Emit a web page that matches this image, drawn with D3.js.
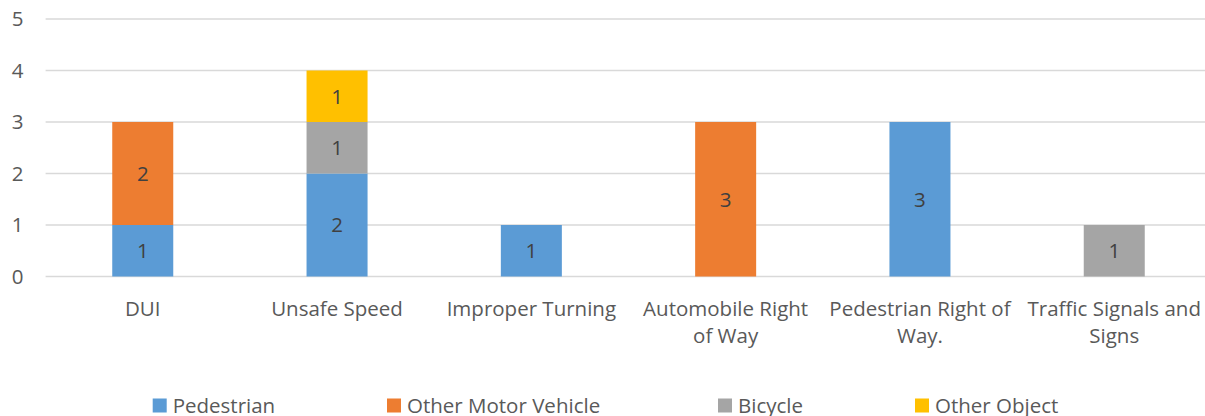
<!DOCTYPE html>
<html>
<head>
<meta charset="utf-8">
<script src="https://cdn.jsdelivr.net/npm/d3@7"></script>
<style>
  html, body { margin: 0; padding: 0; background: #fff; }
  svg { display: block; font-family: "Open Sans", sans-serif; }
</style>
</head>
<body>
<svg id="chart" width="1205" height="416"></svg>
<script>
// Collision causes, broken down by what was struck
const categories = ["DUI", "Unsafe Speed", "Improper Turning", "Automobile Right of Way", "Pedestrian Right of Way.", "Traffic Signals and Signs"];
const seriesNames = ["Pedestrian", "Other Motor Vehicle", "Bicycle", "Other Object"];
const pedestrian = [1, 2, 1, 0, 3, 0];
const otherMotorVehicle = [2, 0, 0, 3, 0, 0];
const bicycle = [0, 1, 0, 0, 0, 1];
const otherObject = [0, 1, 0, 0, 0, 0];
const yTicks = [0, 1, 2, 3, 4, 5];
const colors = ["#5B9BD5", "#ED7D31", "#A5A5A5", "#FFC000"];

const rows = categories.map((c, i) => ({
  category: c,
  "Pedestrian": pedestrian[i],
  "Other Motor Vehicle": otherMotorVehicle[i],
  "Bicycle": bicycle[i],
  "Other Object": otherObject[i]
}));

const svg = d3.select("#chart");
const plot = { left: 45.6, right: 1211.4, top: 19, bottom: 276.5 };
const fontSize = 20.5;

const x = d3.scaleBand().domain(categories).range([plot.left, plot.right]).paddingInner(0.686).paddingOuter(0.343);
const y = d3.scaleLinear().domain([0, 5]).range([plot.bottom, plot.top]);
const color = d3.scaleOrdinal().domain(seriesNames).range(colors);

// Horizontal gridlines
svg.append("g")
  .selectAll("line")
  .data(yTicks)
  .join("line")
  .attr("x1", plot.left).attr("x2", plot.right)
  .attr("y1", d => y(d)).attr("y2", d => y(d))
  .attr("stroke", "#D9D9D9").attr("stroke-width", 1.3);

// Y axis labels
const yAxis = svg.append("g")
  .attr("transform", `translate(${plot.left},0)`)
  .call(d3.axisLeft(y).tickValues(yTicks).tickSize(0).tickPadding(22).tickFormat(d3.format("d")));
yAxis.select(".domain").remove();
yAxis.selectAll("text").attr("fill", "#595959").attr("font-size", fontSize).attr("font-family", "'Open Sans', sans-serif");

// Stacked bars
const stacked = d3.stack().keys(seriesNames)(rows);
const layers = svg.append("g").selectAll("g")
  .data(stacked)
  .join("g")
  .attr("fill", d => color(d.key));

layers.selectAll("rect")
  .data(d => d.filter(s => s[1] - s[0] > 0))
  .join("rect")
  .attr("x", d => x(d.data.category))
  .attr("width", x.bandwidth())
  .attr("y", d => y(d[1]))
  .attr("height", d => y(d[0]) - y(d[1]));

// Value labels inside segments
layers.selectAll("text")
  .data(d => d.filter(s => s[1] - s[0] > 0))
  .join("text")
  .attr("x", d => x(d.data.category) + x.bandwidth() / 2)
  .attr("y", d => (y(d[0]) + y(d[1])) / 2)
  .attr("dy", "0.36em")
  .attr("text-anchor", "middle")
  .attr("fill", "#404040")
  .attr("font-size", fontSize)
  .text(d => d[1] - d[0]);

// Category labels, wrapped to the band width
const xAxis = svg.append("g")
  .attr("transform", `translate(0,${plot.bottom})`)
  .call(d3.axisBottom(x).tickSize(0).tickPadding(0));
xAxis.select(".domain").remove();
xAxis.selectAll("text").remove();

const wrapWidth = 186;
const catG = svg.append("g");
categories.forEach(c => {
  const cx = x(c) + x.bandwidth() / 2;
  const t = catG.append("text")
    .attr("x", cx)
    .attr("y", 316)
    .attr("text-anchor", "middle")
    .attr("fill", "#595959")
    .attr("font-size", fontSize);
  const words = c.split(" ");
  let line = [];
  let tspan = t.append("tspan").attr("x", cx).attr("dy", 0);
  words.forEach(w => {
    line.push(w);
    tspan.text(line.join(" "));
    if (tspan.node().getComputedTextLength() > wrapWidth && line.length > 1) {
      line.pop();
      tspan.text(line.join(" "));
      line = [w];
      tspan = t.append("tspan").attr("x", cx).attr("dy", 27).text(w);
    }
  });
});

// Legend along the bottom edge
const legendX = [152.7, 387, 718, 915];
const legend = svg.append("g").selectAll("g")
  .data(seriesNames)
  .join("g")
  .attr("transform", (d, i) => `translate(${legendX[i]},398.5)`);
legend.append("rect")
  .attr("width", 14).attr("height", 14)
  .attr("fill", d => color(d));
legend.append("text")
  .attr("x", 20)
  .attr("y", 14)
  .attr("fill", "#595959")
  .attr("font-size", fontSize)
  .text(d => d);
</script>
</body>
</html>
